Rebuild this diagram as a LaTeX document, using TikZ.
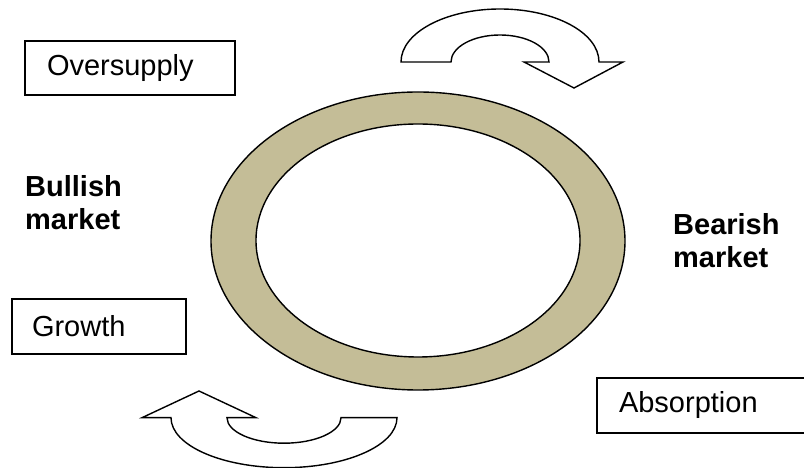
\documentclass[tikz,border=0pt]{standalone}
\usepackage{fontspec}
\setmainfont{Liberation Sans}
\definecolor{ringtan}{HTML}{C4BD97}
\begin{document}
\begin{tikzpicture}[x=1pt,y=1pt,
  outline/.style={draw=black,line width=1.4pt,line join=miter},
  stagebox/.style={draw=black,line width=1.4pt,inner xsep=22pt,inner ysep=0pt,
    align=left,font=\fontsize{29}{33}\selectfont},
  phaselabel/.style={anchor=base west,inner sep=0pt,align=left,
    font=\fontsize{29}{33}\selectfont\bfseries}]
\useasboundingbox (0,0) rectangle (804,468);
\clip (0,0) rectangle (804,468);
% ring
\path[outline,fill=ringtan,even odd rule]
  (418,227) ellipse [x radius=207, y radius=149]
  (418,227.5) ellipse [x radius=162, y radius=116.5];
% top curved arrow
\path[outline,fill=white]
  (401,406) arc[start angle=180,end angle=0,x radius=99,y radius=53]
  -- (623,406) -- (574,380) -- (524,406) -- (549,406)
  arc[start angle=0,end angle=180,x radius=49,y radius=27] -- cycle;
% bottom curved arrow
\path[outline,fill=white]
  (142,50.3) -- (199,77) -- (256,50.3) -- (227,50.3)
  arc[start angle=180,end angle=360,x radius=57,y radius=25.5]
  -- (397,50.3)
  arc[start angle=0,end angle=-180,x radius=113,y radius=50] -- cycle;
% boxes
\node[stagebox,text width=166pt,minimum height=54pt] (oversupply) at (130,400) {Oversupply};
\node[stagebox,inner xsep=20pt,text width=134pt,minimum height=55pt] (growth) at (99,141.5) {Growth};
\node[stagebox,text width=171pt,minimum height=55pt] (absorption) at (704.5,62.5) {Absorption};
% labels
\node[phaselabel] (bullish) at (25,238) {Bullish\\market};
\node[phaselabel] (bearish) at (673,200) {Bearish\\market};
\end{tikzpicture}
\end{document}
